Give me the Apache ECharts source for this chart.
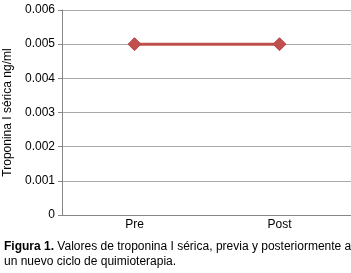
<!DOCTYPE html>
<html><head><meta charset="utf-8">
<script src="https://cdn.jsdelivr.net/npm/echarts@6/dist/echarts.min.js"></script>
<style>html,body{margin:0;padding:0;background:#fff}#c{width:351px;height:273px}</style>
</head><body><div id="c"></div>
<script>
const categories = ['Pre', 'Post'];
const values = [0.005, 0.005];
const yTicks = [0, 0.001, 0.002, 0.003, 0.004, 0.005, 0.006];
const yAxisTitle = 'Troponina I sérica ng/ml';
const captionBold = 'Figura 1.';
const captionLine1 = ' Valores de troponina I sérica, previa y posteriormente a';
const captionLine2 = 'un nuevo ciclo de quimioterapia.';

const FF = 'Liberation Sans, Arial, sans-serif';
const chart = echarts.init(document.getElementById('c'), null, {renderer: 'canvas'});
chart.setOption({
  animation: false,
  textStyle: {fontFamily: FF},
  grid: {left: 62, right: -1, top: 10, bottom: 58, containLabel: false, outerBoundsMode: 'none'},
  xAxis: {
    type: 'category', data: categories, boundaryGap: true,
    axisLine: {show: true, lineStyle: {color: '#868686', width: 1}},
    axisTick: {show: false},
    axisLabel: {color: '#000', fontSize: 12, margin: 4, fontFamily: FF}
  },
  yAxis: {
    type: 'value', min: yTicks[0], max: yTicks[yTicks.length - 1], interval: 0.001,
    name: yAxisTitle, nameLocation: 'middle', nameGap: 46, nameRotate: 90,
    nameTextStyle: {color: '#000', fontSize: 12, fontFamily: FF},
    axisLine: {show: true, lineStyle: {color: '#868686', width: 1}},
    axisTick: {show: true, length: 4, lineStyle: {color: '#868686'}},
    axisLabel: {color: '#000', fontSize: 12, margin: 7, fontFamily: FF,
      formatter: v => { const t = yTicks.find(x => Math.abs(x - v) < 1e-9); return t === 0 ? '0' : (t !== undefined ? t.toFixed(3) : ''); }},
    splitLine: {show: true, lineStyle: {color: '#a9a9a9', width: 1}}
  },
  series: [{
    type: 'line', data: values,
    symbol: 'diamond', symbolSize: 13,
    lineStyle: {color: '#C0504D', width: 3},
    itemStyle: {color: '#C0504D', borderColor: '#B9474A', borderWidth: 1}
  }],
  graphic: [{
    type: 'text', left: 4, top: 239,
    style: {
      text: '{b|' + captionBold + '}' + captionLine1 + '\n' + captionLine2,
      fontSize: 12, lineHeight: 15, fill: '#000',
      fontFamily: FF,
      rich: {b: {fontWeight: 'bold', fontSize: 12, fontFamily: FF}}
    }
  }]
});
</script></body></html>
